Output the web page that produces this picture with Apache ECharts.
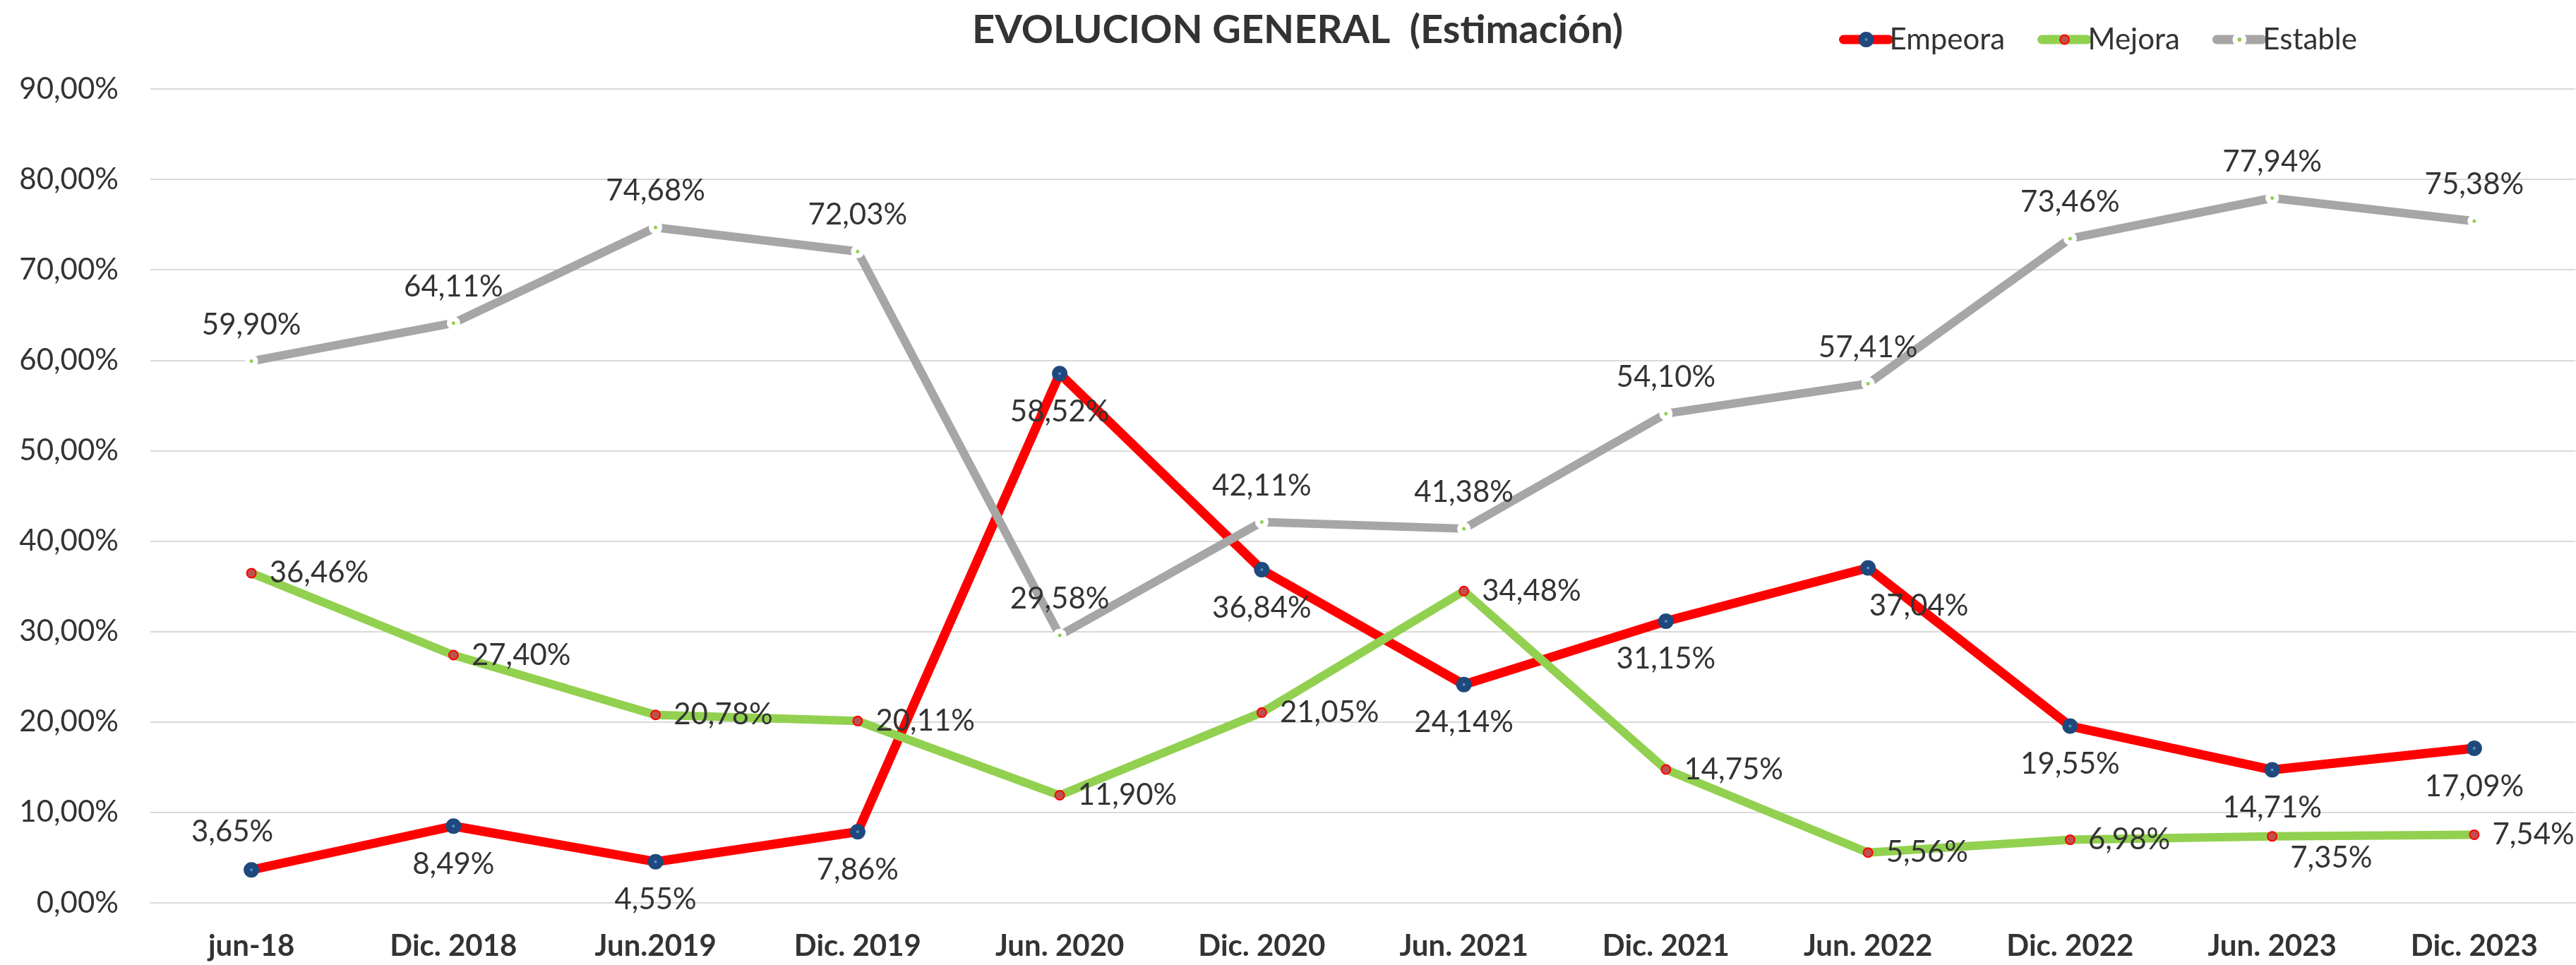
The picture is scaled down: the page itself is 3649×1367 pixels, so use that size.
<!DOCTYPE html>
<html>
<head>
<meta charset="utf-8">
<script src="https://cdn.jsdelivr.net/npm/echarts@6/dist/echarts.min.js"></script>
<style>
  html, body { margin: 0; padding: 0; background: #fff; }
  #chart { width: 3649px; height: 1367px; }
</style>
</head>
<body>
<div id="chart"></div>
<script>
var categories = ['jun-18', 'Dic. 2018', 'Jun.2019', 'Dic. 2019', 'Jun. 2020', 'Dic. 2020',
  'Jun. 2021', 'Dic. 2021', 'Jun. 2022', 'Dic. 2022', 'Jun. 2023', 'Dic. 2023'];
var empeora = [3.65, 8.49, 4.55, 7.86, 58.52, 36.84, 24.14, 31.15, 37.04, 19.55, 14.71, 17.09];
var mejora = [36.46, 27.40, 20.78, 20.11, 11.90, 21.05, 34.48, 14.75, 5.56, 6.98, 7.35, 7.54];
var estable = [59.90, 64.11, 74.68, 72.03, 29.58, 42.11, 41.38, 54.10, 57.41, 73.46, 77.94, 75.38];

var FONT = 'Lato';
var TEXT = '#333333';

function pct(v) {
  return v.toFixed(2).replace('.', ',') + '%';
}

// labels that Excel had moved by hand
function withLabels(values, special) {
  return values.map(function (v, i) {
    if (special[i]) return { value: v, label: special[i] };
    return v;
  });
}

var labelBase = {
  show: true,
  fontFamily: FONT,
  fontSize: 42,
  color: TEXT,
  formatter: function (p) { return pct(p.value); }
};

var option = {
  animation: false,
  backgroundColor: '#fff',
  title: {
    text: 'EVOLUCION GENERAL  (Estimación)',
    left: 1372,
    top: 10,
    textStyle: { fontFamily: FONT, fontSize: 56, fontWeight: 'bold', color: TEXT }
  },
  legend: {
    left: 2605,
    top: 35,
    padding: 0,
    itemWidth: 64,
    itemHeight: 16,
    itemGap: 46,
    textStyle: { fontFamily: FONT, fontSize: 42, color: TEXT, padding: [0, 0, 0, -4] },
    data: [
      { name: 'Empeora', itemStyle: { color: '#5b8fd0', borderColor: '#1f497d', borderWidth: 9 },
        lineStyle: { color: '#ff0000', width: 13, cap: 'round' } },
      { name: 'Mejora', itemStyle: { color: '#c0504d', borderColor: '#ff0000', borderWidth: 2 },
        lineStyle: { color: '#92d050', width: 13, cap: 'round' } },
      { name: 'Estable', itemStyle: { color: '#92d050', borderColor: '#ffffff', borderWidth: 7 },
        lineStyle: { color: '#a6a6a6', width: 13, cap: 'round' } }
    ]
  },
  grid: { left: 213, right: 1, top: 126, bottom: 88 },
  xAxis: {
    type: 'category',
    data: categories,
    boundaryGap: true,
    axisLine: { lineStyle: { color: '#d9d9d9', width: 2 } },
    axisTick: { show: false },
    axisLabel: { fontFamily: FONT, fontSize: 42, fontWeight: 'bold', color: TEXT, margin: 40 }
  },
  yAxis: {
    type: 'value',
    min: 0,
    max: 90,
    interval: 10,
    axisLine: { show: false },
    axisTick: { show: false },
    splitLine: { lineStyle: { color: '#d9d9d9', width: 2 } },
    axisLabel: {
      fontFamily: FONT, fontSize: 42, color: TEXT, margin: 45,
      formatter: function (v) { return pct(v); }
    }
  },
  series: [
    {
      name: 'Empeora',
      type: 'line',
      data: withLabels(empeora, {
        0: { position: 'top', distance: 22, offset: [-27, 0] },
        8: { offset: [72, 0] }
      }),
      symbol: 'circle',
      symbolSize: 13,
      lineStyle: { color: '#ff0000', width: 13 },
      itemStyle: { color: '#5b8fd0', borderColor: '#1f497d', borderWidth: 9 },
      label: Object.assign({}, labelBase, { position: 'bottom', distance: 22 }),
      emphasis: { disabled: true },
      z: 2
    },
    {
      name: 'Mejora',
      type: 'line',
      data: withLabels(mejora, {
        10: { offset: [0, 31] }
      }),
      symbol: 'circle',
      symbolSize: 13,
      lineStyle: { color: '#92d050', width: 12 },
      itemStyle: { color: '#c0504d', borderColor: '#ff0000', borderWidth: 2 },
      label: Object.assign({}, labelBase, { position: 'right', distance: 18 }),
      emphasis: { disabled: true },
      z: 3
    },
    {
      name: 'Estable',
      type: 'line',
      data: estable,
      symbol: 'circle',
      symbolSize: 12,
      lineStyle: { color: '#a6a6a6', width: 12 },
      itemStyle: { color: '#92d050', borderColor: '#ffffff', borderWidth: 7 },
      label: Object.assign({}, labelBase, { position: 'top', distance: 21 }),
      emphasis: { disabled: true },
      z: 4
    }
  ]
};

var myChart = echarts.init(document.getElementById('chart'), null, { renderer: 'canvas' });
myChart.setOption(option);
</script>
</body>
</html>
